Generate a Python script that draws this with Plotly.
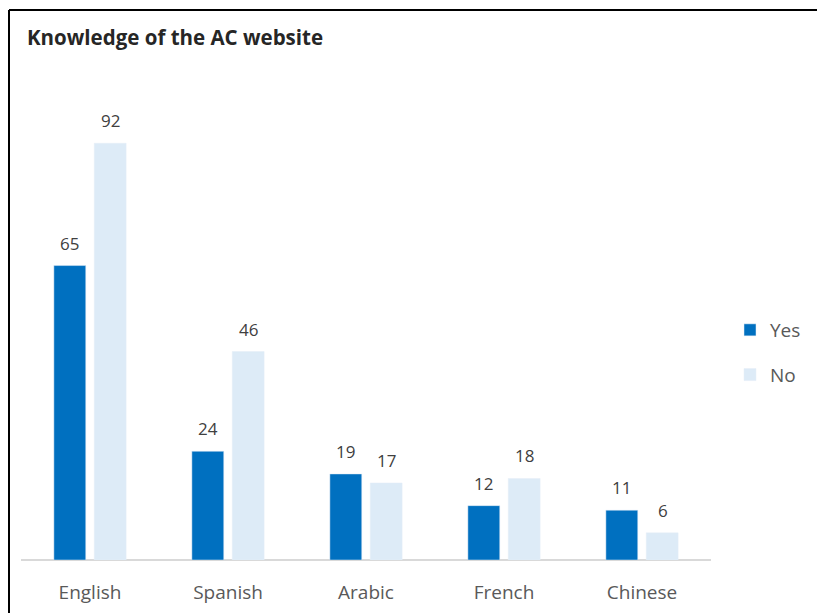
import plotly.graph_objects as go

categories = ["English", "Spanish", "Arabic", "French", "Chinese"]
yes_vals = [65, 24, 19, 12, 11]
no_vals = [92, 46, 17, 18, 6]
title_text = "Knowledge of the AC website"

W, H = 817, 613
ML, MR, MT, MB = 21, 106, 107, 53
pw, ph = W - ML - MR, H - MT - MB

FONT = "Open Sans, DejaVu Sans, sans-serif"
GRAY = "#595959"

fig = go.Figure()
fig.add_trace(go.Bar(x=categories, y=yes_vals, name="Yes", marker_color="#0070C0",
                     legendgroup="yes", hoverinfo="skip"))
fig.add_trace(go.Bar(x=categories, y=no_vals, name="No", marker_color="#DDEBF7",
                     legendgroup="no", hoverinfo="skip"))

ann = []
for c, v in zip(categories, yes_vals):
    ann.append(dict(x=c, y=v, text=str(v), xshift=-20.5, yshift=9, yanchor="bottom",
                    showarrow=False, font=dict(size=17, color="#404040", family=FONT)))
for c, v in zip(categories, no_vals):
    ann.append(dict(x=c, y=v, text=str(v), xshift=20.5, yshift=9, yanchor="bottom",
                    showarrow=False, font=dict(size=17, color="#404040", family=FONT)))

ann.append(dict(xref="paper", yref="paper", x=(25 - ML) / pw, y=(H - MB - 37) / ph,
                xanchor="left", yanchor="middle", text="<b>" + title_text + "</b>",
                showarrow=False, font=dict(size=20.5, color="#262626", family=FONT)))

# border (top and left only) and category-axis baseline
bx = (9 - ML) / pw
by = (H - MB - 10) / ph
bx_end = (W + 10 - ML) / pw
by_end = -(MB + 10) / ph
shapes = [
    dict(type="line", xref="paper", yref="paper", x0=bx, x1=bx_end, y0=by, y1=by,
         line=dict(color="#000000", width=2)),
    dict(type="line", xref="paper", yref="paper", x0=bx, x1=bx, y0=by, y1=by_end,
         line=dict(color="#000000", width=2)),
    dict(type="line", xref="paper", yref="paper", x0=0, x1=1, y0=0, y1=0,
         line=dict(color="#D9D9D9", width=2), layer="below"),
]

fig.update_layout(
    width=W, height=H,
    margin=dict(l=ML, r=MR, t=MT, b=MB, autoexpand=False),
    paper_bgcolor="white", plot_bgcolor="white",
    barmode="group", bargap=0.415, bargroupgap=0.21,
    font=dict(family=FONT, color=GRAY),
    showlegend=True, hovermode=False, dragmode=False,
    legend=dict(x=(730 - ML) / pw, y=(H - MB - 311) / ph, xanchor="left", yanchor="top",
                traceorder="grouped", tracegroupgap=17,
                font=dict(size=19, color=GRAY, family=FONT), bgcolor="rgba(0,0,0,0)",
                itemwidth=30),
    annotations=ann,
    shapes=shapes,
)
fig.update_xaxes(showline=False, showgrid=False,
                 zeroline=False, ticks="", ticklabelstandoff=19, fixedrange=True,
                 tickfont=dict(size=19, color=GRAY, family=FONT))
fig.update_yaxes(range=[0, 100], visible=False, showgrid=False, zeroline=False,
                 fixedrange=True)

fig.write_html("out.html", config={"displayModeBar": False, "staticPlot": True},
               post_script="document.body.style.margin='0';document.body.style.overflow='hidden';")
